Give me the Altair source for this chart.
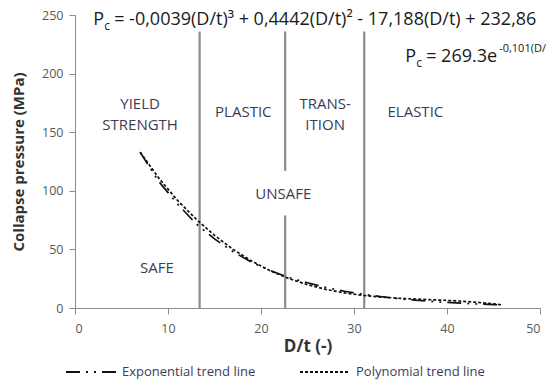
import altair as alt
import pandas as pd

# ---- data ----
dt_vals = [7, 9, 11, 13, 15, 17, 19, 21, 23, 25, 27, 29, 31, 33, 35, 37, 39, 41, 43, 45, 46]
exp_vals = [133, 108, 89, 72, 59, 48, 39, 32, 26, 21.5, 17.5, 14.3, 11.7, 9.6, 7.8, 6.4, 5.2, 4.3, 3.5, 2.9, 2.6]
poly_vals = [133, 111, 92, 76, 62, 50, 40, 31.7, 25.1, 19.9, 15.8, 12.9, 10.7, 9.3, 8.2, 7.5, 6.8, 6.1, 5.0, 3.5, 2.6]
series_names = ["Exponential trend line", "Polynomial trend line"]

rule_x = [13.4, 22.6, 22.6, 31.1]
rule_y0 = [0, 0, 117, 0]
rule_y1 = [236, 79, 236, 236]

region_labels = ["YIELD", "STRENGTH", "PLASTIC", "TRANS-", "ITION", "ELASTIC", "UNSAFE", "SAFE"]
region_x = [7.0, 7.0, 18.1, 26.9, 26.9, 36.6, 22.4, 8.8]
region_y = [174, 156, 167, 174, 156, 167, 97, 34]

eq_main = ["= -0,0039(D/t)\u00b3 + 0,4442(D/t)\u00b2 - 17,188(D/t) + 232,86", "= 269.3e"]
eq_x = [1.95, 35.5]
eq_y = [246, 214]
eq_exp = "-0,101(D/t)"

x_ticks = [0, 10, 20, 30, 40, 50]
y_ticks = [0, 50, 100, 150, 200, 250]

FONT = "Open Sans"

rows = []
for d, e, p in zip(dt_vals, exp_vals, poly_vals):
    rows.append({"dt": d, "pc": e, "series": series_names[0]})
    rows.append({"dt": d, "pc": p, "series": series_names[1]})
curve_df = pd.DataFrame(rows)

xs = alt.Scale(domain=[0, 50], nice=False)
ys = alt.Scale(domain=[0, 250], nice=False)

lines = alt.Chart(curve_df).mark_line(strokeWidth=1.7, color="#111").encode(
    x=alt.X("dt:Q", scale=xs, title="D/t (-)",
            axis=alt.Axis(values=x_ticks, grid=False, tickSize=6, labelPadding=8,
                          titlePadding=4, domainColor="#8c8c8c", tickColor="#8c8c8c",
                          labelColor="#595959", labelFontSize=12.5, labelFont=FONT,
                          titleFont=FONT, titleFontSize=17, titleFontWeight="bold",
                          titleColor="#333333")),
    y=alt.Y("pc:Q", scale=ys, title="Collapse pressure (MPa)",
            axis=alt.Axis(values=y_ticks, grid=False, tickSize=6, labelPadding=6,
                          titlePadding=15, domainColor="#8c8c8c", tickColor="#8c8c8c",
                          labelColor="#595959", labelFontSize=12.5, labelFont=FONT,
                          titleFont=FONT, titleFontSize=15, titleFontWeight="bold",
                          titleColor="#333333")),
    strokeDash=alt.StrokeDash(
        "series:N",
        scale=alt.Scale(domain=series_names, range=[[14, 6, 2, 6, 2, 6], [3, 2]]),
        legend=alt.Legend(title=None, orient="none", direction="horizontal",
                          legendX=-10, legendY=331, symbolType="stroke",
                          symbolSize=2500, symbolStrokeWidth=2,
                          symbolStrokeColor="#111", labelFont=FONT,
                          labelFontSize=13, labelColor="#3f3a5a", labelOffset=5,
                          columnPadding=40, padding=0),
    ),
    detail="series:N",
)

rule_df = pd.DataFrame({"x": rule_x, "y0": rule_y0, "y1": rule_y1})
rules = alt.Chart(rule_df).mark_rule(color="#8c8c8c", strokeWidth=2.2).encode(
    x=alt.X("x:Q", scale=xs), y=alt.Y("y0:Q", scale=ys), y2="y1:Q"
)

lab_df = pd.DataFrame({"t": region_labels, "x": region_x, "y": region_y})
labels = alt.Chart(lab_df).mark_text(font=FONT, fontSize=15, color="#3b3b58",
                                     align="center", baseline="middle").encode(
    x=alt.X("x:Q", scale=xs), y=alt.Y("y:Q", scale=ys), text="t:N"
)

eq_df = pd.DataFrame({"t": eq_main, "x": eq_x, "y": eq_y})
eq_p = alt.Chart(eq_df).mark_text(font=FONT, fontSize=18, color="#1a1a1a",
                                  align="left", baseline="middle").encode(
    x=alt.X("x:Q", scale=xs), y=alt.Y("y:Q", scale=ys), text=alt.value("P")
)
eq_c = alt.Chart(eq_df).mark_text(font=FONT, fontSize=12, color="#1a1a1a",
                                  align="left", baseline="middle", dx=11, dy=6).encode(
    x=alt.X("x:Q", scale=xs), y=alt.Y("y:Q", scale=ys), text=alt.value("c")
)
eq_t = alt.Chart(eq_df).mark_text(font=FONT, fontSize=18, color="#1a1a1a",
                                  align="left", baseline="middle", dx=21).encode(
    x=alt.X("x:Q", scale=xs), y=alt.Y("y:Q", scale=ys), text="t:N"
)
eq2_df = pd.DataFrame({"t": [eq_exp], "x": [eq_x[1]], "y": [eq_y[1]]})
eq_e = alt.Chart(eq2_df).mark_text(font=FONT, fontSize=11, color="#1a1a1a",
                                   align="left", baseline="middle", dx=94, dy=-8).encode(
    x=alt.X("x:Q", scale=xs), y=alt.Y("y:Q", scale=ys), text="t:N"
)

chart = alt.layer(rules, lines, labels, eq_p, eq_c, eq_t, eq_e).properties(
    width=465, height=293,
    autosize=alt.AutoSizeParams(type="none"),
    padding={"left": 67, "top": 7, "right": 6, "bottom": 71},
    background="white",
).configure_view(stroke=None)

chart.save("out.html", embed_options={"renderer": "svg", "actions": False})
